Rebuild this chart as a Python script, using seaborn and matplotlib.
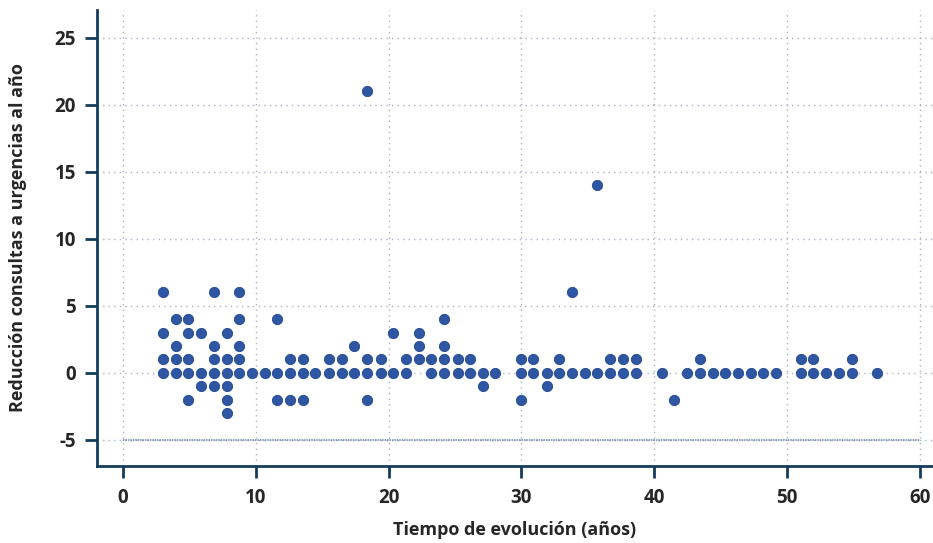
import matplotlib
matplotlib.use("Agg")
import matplotlib.pyplot as plt
import seaborn as sns
import pandas as pd

# Years since onset for each patient and the reduction in yearly ER visits
tiempo = [
    2.98, 2.98, 2.98, 2.98,
    3.96, 3.96, 3.96, 3.96,
    4.91, 4.91, 4.91, 4.91, 4.91,
    5.86, 5.86, 5.86,
    6.86, 6.86, 6.86, 6.86, 6.86,
    7.80, 7.80, 7.80, 7.80, 7.80, 7.80,
    8.74, 8.74, 8.74, 8.74, 8.74,
    9.72, 10.68,
    11.63, 11.63, 11.63,
    12.61, 12.61, 12.61,
    13.56, 13.56, 13.56,
    14.5,
    15.5, 15.5,
    16.5, 16.5,
    17.4, 17.4,
    18.4, 18.4, 18.4, 18.4,
    19.4, 19.4,
    20.3, 20.3,
    21.3, 21.3,
    22.3, 22.3, 22.3,
    23.2, 23.2,
    24.2, 24.2, 24.2, 24.2,
    25.2, 25.2,
    26.1, 26.1,
    27.1, 27.1,
    28.0,
    29.97, 29.97, 29.97,
    30.9, 30.9,
    31.9, 31.9,
    32.85, 32.85,
    33.8, 33.8,
    34.8,
    35.7, 35.7,
    36.7, 36.7,
    37.65, 37.65,
    38.6, 38.6,
    40.6,
    41.5,
    42.5,
    43.45, 43.45,
    44.4, 45.35, 46.3, 47.3, 48.2, 49.2,
    51.05, 51.05,
    52.0, 52.0,
    52.95, 53.9,
    54.9, 54.9,
    56.8,
]
reduccion = [
    6, 3, 1, 0,
    4, 2, 1, 0,
    4, 3, 1, 0, -2,
    3, 0, -1,
    6, 2, 1, 0, -1,
    3, 1, 0, -1, -2, -3,
    6, 4, 2, 1, 0,
    0, 0,
    4, 0, -2,
    1, 0, -2,
    1, 0, -2,
    0,
    1, 0,
    1, 0,
    2, 0,
    21, 1, 0, -2,
    1, 0,
    3, 0,
    1, 0,
    3, 2, 1,
    1, 0,
    4, 2, 1, 0,
    1, 0,
    1, 0,
    0, -1,
    0,
    1, 0, -2,
    1, 0,
    0, -1,
    1, 0,
    6, 0,
    0,
    14, 0,
    1, 0,
    1, 0,
    1, 0,
    0,
    -2,
    0,
    1, 0,
    0, 0, 0, 0, 0, 0,
    1, 0,
    1, 0,
    0, 0,
    1, 0,
    0,
]

# Reference level drawn across the plot
linea_x = [0, 60]
linea_y = [-5, -5]

x_ticks = [0, 10, 20, 30, 40, 50, 60]
y_ticks = [-5, 0, 5, 10, 15, 20, 25]

df = pd.DataFrame({"tiempo": tiempo, "reduccion": reduccion})

sns.set_theme(style="white")
plt.rcParams["font.family"] = ["Open Sans", "DejaVu Sans"]

navy = "#143d5c"
dot = "#2f56a3"
text_col = "#262626"

fig = plt.figure(figsize=(9.33, 5.43), dpi=100)
ax = fig.add_axes([0.104, 0.142, 0.896, 0.840])

ax.plot(linea_x, linea_y, color="#6f82a6", lw=1.1, ls=(0, (1, 0.6)), zorder=2)

sns.scatterplot(data=df, x="tiempo", y="reduccion", ax=ax, s=55,
                color=dot, edgecolor="#24498f", linewidth=0.6, zorder=3)

ax.set_xlim(-1.95, 61.0)
ax.set_ylim(-6.95, 27.1)
ax.set_xticks(x_ticks)
ax.set_yticks(y_ticks)
ax.set_xticklabels([str(v) for v in x_ticks])
ax.set_yticklabels([str(v) for v in y_ticks])

ax.grid(True, color="#aab2c8", ls=(0, (1, 3)), lw=1.0)
ax.set_axisbelow(True)

for side in ("top", "right"):
    ax.spines[side].set_visible(False)
for side in ("left", "bottom"):
    ax.spines[side].set_color(navy)
    ax.spines[side].set_linewidth(2)

ax.tick_params(axis="both", which="major", direction="out", length=8.6,
               width=2, color=navy, labelsize=13.5, labelcolor=text_col,
               left=True, bottom=True)
ax.tick_params(axis="y", pad=6.5)
ax.tick_params(axis="x", pad=7.5)
for lab in ax.get_xticklabels() + ax.get_yticklabels():
    lab.set_fontweight("bold")

ax.set_xlabel("Tiempo de evolución (años)", fontsize=13, fontweight="bold",
              color=text_col, labelpad=9)
ax.set_ylabel("Reducción consultas a urgencias al año", fontsize=13,
              fontweight="bold", color=text_col, labelpad=20)

fig.savefig("out.png", dpi=100)
